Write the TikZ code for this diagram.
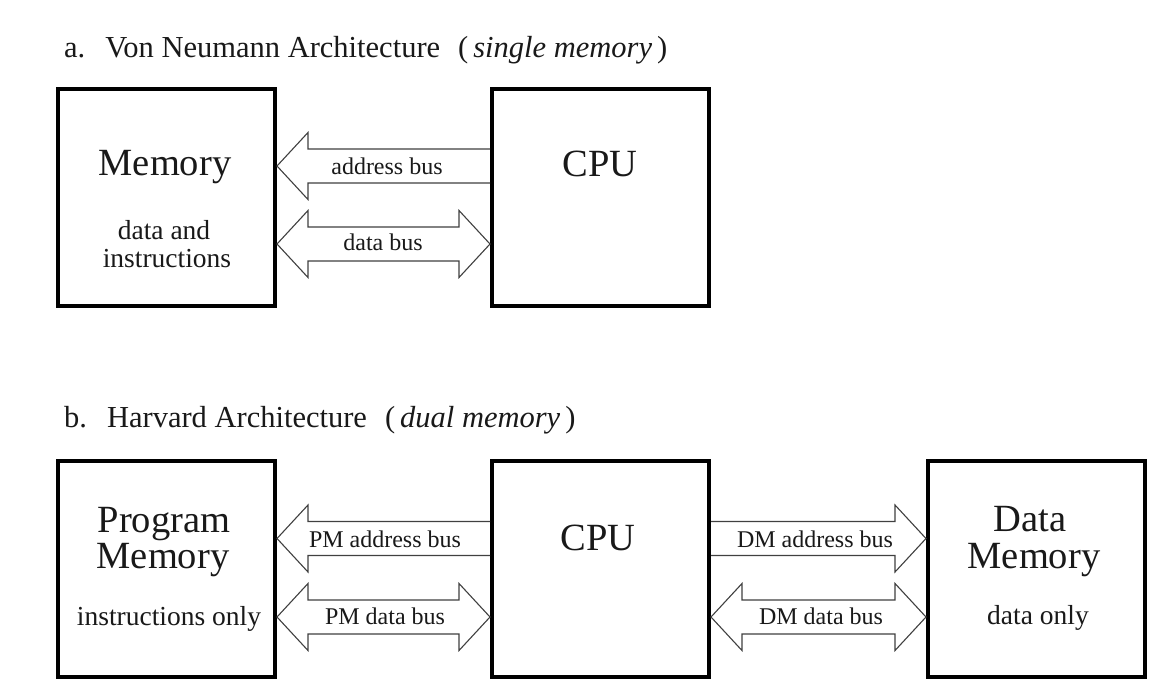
\documentclass[tikz,border=0pt]{standalone}
\usepackage{fontspec}
\setmainfont{Liberation Serif}
\usetikzlibrary{calc}
\newcommand\ttlfont{\fontsize{30.5}{36}\selectfont}
\newcommand\bigfont{\fontsize{38.5}{44}\selectfont}
\newcommand\medfont{\fontsize{27.5}{32}\selectfont}
\newcommand\smlfont{\fontsize{24}{28}\selectfont}
\newcommand\busL[3]{% left-pointing: tip at #1, tail at #2, centre y #3
  \draw[bus] let \p1=(#1),\p2=(#2) in
  (\x2,-#3pt+17pt) -- (\x1+31pt,-#3pt+17pt) -- (\x1+31pt,-#3pt+33.5pt) -- (\x1,-#3pt)
  -- (\x1+31pt,-#3pt-33.5pt) -- (\x1+31pt,-#3pt-17pt) -- (\x2,-#3pt-17pt);}
\newcommand\busR[3]{% right-pointing: tail at #1, tip at #2, centre y #3
  \draw[bus] let \p1=(#1),\p2=(#2) in
  (\x1,-#3pt+17pt) -- (\x2-31pt,-#3pt+17pt) -- (\x2-31pt,-#3pt+33.5pt) -- (\x2,-#3pt)
  -- (\x2-31pt,-#3pt-33.5pt) -- (\x2-31pt,-#3pt-17pt) -- (\x1,-#3pt-17pt);}
\newcommand\busD[3]{% double: left tip #1, right tip #2, centre y #3
  \draw[bus] let \p1=(#1),\p2=(#2) in
  (\x1,-#3pt) -- (\x1+31pt,-#3pt+33.5pt) -- (\x1+31pt,-#3pt+17pt) -- (\x2-31pt,-#3pt+17pt)
  -- (\x2-31pt,-#3pt+33.5pt) -- (\x2,-#3pt) -- (\x2-31pt,-#3pt-33.5pt) -- (\x2-31pt,-#3pt-17pt)
  -- (\x1+31pt,-#3pt-17pt) -- (\x1+31pt,-#3pt-33.5pt) -- cycle;}
\begin{document}
\begin{tikzpicture}[x=1pt,y=-1pt,
  box/.style={draw=black, line width=4pt, minimum width=217pt, minimum height=217pt, inner sep=0pt},
  bus/.style={draw=black!75, line width=1.1pt, line join=miter},
  txt/.style={anchor=base, inner sep=0pt, text=black!90},
  ttl/.style={anchor=base west, inner sep=0pt, text=black!90, font=\ttlfont}]
\useasboundingbox (0,0) rectangle (1167,696);
\fill[white] (0,0) rectangle (1167,696);

% ---- a. Von Neumann ----
\node[ttl] (ta) at (64,57) {a.\hspace{20pt}Von Neumann Architecture\hspace{18pt}(\hspace{5pt}\textit{single memory}\hspace{5pt})};
\node[box] (mem) at (166.5,197.5) {};
\node[box] (cpu) at (600.5,197.5) {};
\node[txt, font=\bigfont] (memT) at (165,175) {Memory};
\node[txt, font=\medfont] (memS1) at (164,239) {data and};
\node[txt, font=\medfont] (memS2) at (167,267) {instructions};
\node[txt, font=\bigfont] (cpuT) at (600,176) {CPU};
\busL{mem.east}{cpu.west}{166}
\busD{mem.east}{cpu.west}{244}
\node[txt, font=\smlfont] (ab) at (387,174) {address bus};
\node[txt, font=\smlfont] (db) at (383,250) {data bus};

% ---- b. Harvard ----
\node[ttl] (tb) at (64,427) {b.\hspace{20pt}Harvard Architecture\hspace{18pt}(\hspace{5pt}\textit{dual memory}\hspace{5pt})};
\node[box, minimum height=216pt] (pm) at (166.5,569) {};
\node[box, minimum height=216pt] (cpu2) at (600.5,569) {};
\node[box, minimum height=216pt] (dm) at (1036.5,569) {};
\node[txt, font=\bigfont] (pmT1) at (164,532) {Program};
\node[txt, font=\bigfont] (pmT2) at (163,568) {Memory};
\node[txt, font=\medfont] (pmS) at (169,625) {instructions only};
\node[txt, font=\bigfont] (cpu2T) at (598,550) {CPU};
\node[txt, font=\bigfont] (dmT1) at (1030,531) {Data};
\node[txt, font=\bigfont] (dmT2) at (1034,568) {Memory};
\node[txt, font=\medfont] (dmS) at (1038,624) {data only};
\busL{pm.east}{cpu2.west}{538.5}
\busD{pm.east}{cpu2.west}{617}
\busR{cpu2.east}{dm.west}{538.5}
\busD{cpu2.east}{dm.west}{617}
\node[txt, font=\smlfont] (pab) at (385,547) {PM address bus};
\node[txt, font=\smlfont] (pdb) at (385,624) {PM data bus};
\node[txt, font=\smlfont] (dab) at (815,547) {DM address bus};
\node[txt, font=\smlfont] (ddb) at (821,624) {DM data bus};
\end{tikzpicture}
\end{document}
